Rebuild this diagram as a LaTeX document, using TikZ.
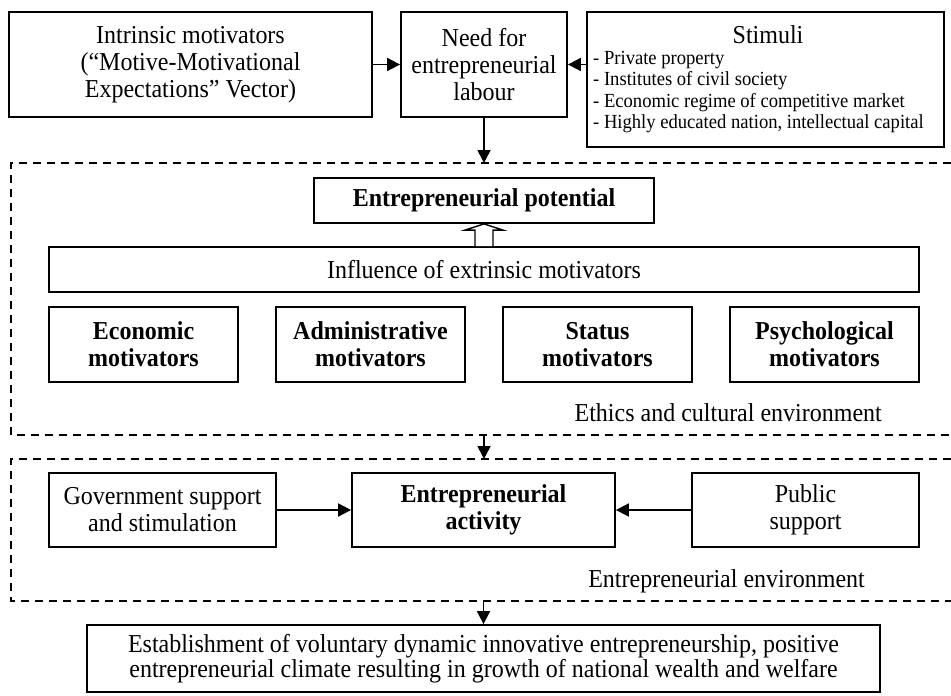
\documentclass[tikz,border=0pt]{standalone}
\usepackage{fontspec}
\setmainfont[FakeStretch=0.93]{Liberation Serif}
\usetikzlibrary{arrows.meta,calc}
\newcommand\fbig{\fontsize{25.8}{27}\selectfont}
\newcommand\fsmall{\fontsize{20}{21.3}\selectfont}
\begin{document}
\begin{tikzpicture}[x=1pt,y=-1pt,
  box/.style={draw, line width=1.8pt, inner sep=0pt, align=center, font=\fbig},
  bbox/.style={box, font=\fbig\bfseries},
  lbl/.style={inner sep=0pt, font=\fbig},
  arr/.style={line width=1.8pt, -{Triangle[length=13pt,width=13pt]}},
  envline/.style={line width=1.4pt, dash pattern=on 8pt off 6pt},
  hollow/.style={line width=1.4pt, fill=white, line join=miter}]
\useasboundingbox (0,0) rectangle (951,696);
% top row
\node[box, minimum width=363pt, minimum height=105pt] (intr) at (190.5,64.5)
  {Intrinsic motivators\\(``Motive-Motivational\\Expectations'' Vector)};
\node[box, minimum width=166pt, minimum height=105pt] (need) at (484,64.5)
  {Need for\\entrepreneurial\\labour};
\node[box, minimum width=357pt, minimum height=135pt] (stim) at (765.5,79.5) {};
\node[lbl] (stimt) at (768,35) {Stimuli};
\node[inner sep=0pt, align=left, font=\fsmall, anchor=west] (stiml) at (593,92)
  {- Private property\\- Institutes of civil society\\- Economic regime of competitive market\\- Highly educated nation, intellectual capital};
\draw[arr] (intr) -- (need);
\draw[arr] (need.east -| stim.west) -- (need.east);
% ethics environment
\coordinate (e1ne) at (951,163);
\coordinate (e1nw) at (11,163);
\coordinate (e1sw) at (11,435);
\coordinate (e1se) at (951,435);
\draw[envline] (e1ne) -- (e1nw) -- (e1sw) -- (e1se);
\draw[arr] (need.south) -- (need.south |- e1nw);
\node[bbox, minimum width=340pt, minimum height=45pt] (pot) at (484,200.5) {Entrepreneurial potential};
\node[box, minimum width=870pt, minimum height=45pt] (infl) at (484,269.5) {Influence of extrinsic motivators};
\draw[hollow] ($(infl.north)+(-9,0)$) -- ($(infl.north)+(-9,-16)$) -- ($(infl.north)+(-19,-16)$)
  -- (pot.south) -- ($(infl.north)+(19,-16)$) -- ($(infl.north)+(9,-16)$) -- ($(infl.north)+(9,0)$);
\node[bbox, minimum width=189pt, minimum height=75pt] (eco) at (143.5,344.5) {Economic\\motivators};
\node[bbox, minimum width=189pt, minimum height=75pt] (adm) at (370.5,344.5) {Administrative\\motivators};
\node[bbox, minimum width=189pt, minimum height=75pt] (sta) at (597.5,344.5) {Status\\motivators};
\node[bbox, minimum width=189pt, minimum height=75pt] (psy) at (824.5,344.5) {Psychological\\motivators};
\node[lbl, anchor=east] (ethics) at (882,413) {Ethics and cultural environment};
% entrepreneurial environment
\coordinate (e2ne) at (951,459);
\coordinate (e2nw) at (11,459);
\coordinate (e2sw) at (11,601);
\coordinate (e2se) at (951,601);
\draw[envline] (e2ne) -- (e2nw) -- (e2sw) -- (e2se);
\draw[arr] (infl.south |- e1sw) -- (infl.south |- e2nw);
\node[box, minimum width=227pt, minimum height=74pt] (gov) at (162.5,510) {Government support\\and stimulation};
\node[bbox, minimum width=263pt, minimum height=74pt] (act) at (483.5,510) {Entrepreneurial\\activity};
\node[box, minimum width=227pt, minimum height=74pt] (pub) at (805.5,510) {Public\\support};
\draw[arr] (gov) -- (act);
\draw[arr] (pub) -- (act);
\node[lbl, anchor=east] (envt) at (865,581) {Entrepreneurial environment};
\node[box, minimum width=793pt, minimum height=67pt, font=\fontsize{25.8}{25}\selectfont] (final) at (483.5,658.5)
  {Establishment of voluntary dynamic innovative entrepreneurship, positive\\entrepreneurial climate resulting in growth of national wealth and welfare};
\draw[arr] (act.south |- e2sw) -- (final.north);
\end{tikzpicture}
\end{document}
